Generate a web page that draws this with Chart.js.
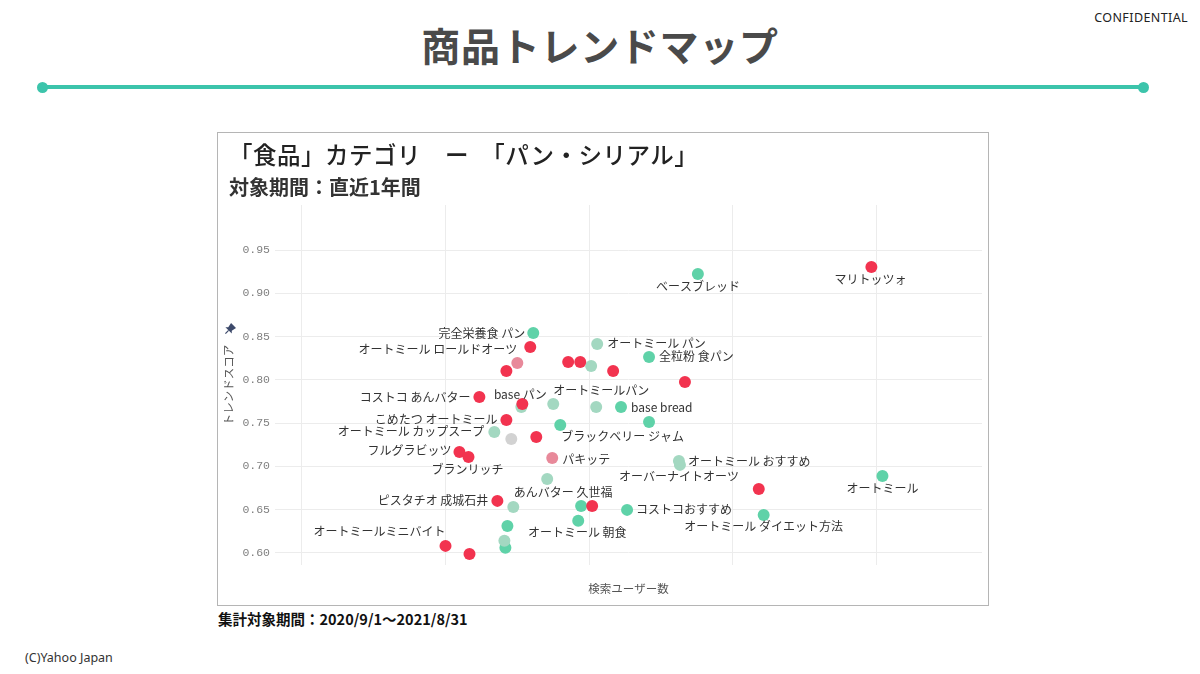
<!DOCTYPE html>
<html lang="ja">
<head>
<meta charset="utf-8">
<script src="https://cdn.jsdelivr.net/npm/chart.js@4.4.1/dist/chart.umd.min.js"></script>
<style>
  html, body { margin: 0; padding: 0; background: #fff; width: 1200px; height: 674px; overflow: hidden; font-family: "Noto Sans CJK JP", "Noto Sans", sans-serif; }
  .abs { position: absolute; white-space: nowrap; }
  #conf { right: 12px; top: 9px; font: 12.5px "Noto Sans", sans-serif; color: #222; letter-spacing: 0.4px; }
  #head { left: 0; width: 1200px; top: 18px; text-align: center; font: 700 39px "Noto Sans CJK JP"; color: #4a4a4a; letter-spacing: 0.7px; line-height: 52px; }
  #rule { left: 42px; top: 85px; width: 1101px; height: 4px; background: #3cc4ab; }
  .dot { position: absolute; width: 11px; height: 11px; border-radius: 50%; background: #3cc4ab; top: 82px; }
  #box { left: 217px; top: 132px; width: 770px; height: 472px; border: 1px solid #b5b5b5; }
  #t1 { left: 229px; top: 139px; font: 500 23.5px "Noto Sans CJK JP"; color: #222; line-height: 30px; letter-spacing: 0.5px; }
  #t2 { left: 229px; top: 173px; font: 700 20px "Noto Sans CJK JP"; color: #333; line-height: 28px; }
  #foot { left: 218px; top: 608px; font: 700 14.5px "Noto Sans CJK JP"; color: #111; line-height: 22px; }
  #copy { left: 25px; top: 649px; font: 12.5px "Noto Sans", sans-serif; color: #333; }
  #wrap { position: absolute; left: 218px; top: 133px; width: 770px; height: 472px; }
</style>
</head>
<body>
<div id="conf" class="abs">CONFIDENTIAL</div>
<div id="head" class="abs">商品トレンドマップ</div>
<div id="rule" class="abs"></div>
<div class="dot" style="left:37px"></div>
<div class="dot" style="left:1138px"></div>
<div id="box" class="abs"></div>
<div id="wrap"><canvas id="c" width="770" height="472"></canvas></div>
<div id="t1" class="abs">「食品」カテゴリ　ー　「パン・シリアル」</div>
<div id="t2" class="abs">対象期間：直近1年間</div>
<div id="foot" class="abs">集計対象期間：2020/9/1～2021/8/31</div>
<div id="copy" class="abs">(C)Yahoo Japan</div>
<script>
// ---- data ----
const names = [
  'マリトッツォ','ベースブレッド','完全栄養食 パン','オートミール ロールドオーツ','オートミール パン',
  '全粒粉 食パン','','','','',
  '','','','コストコ あんバター','base パン',
  '','オートミールパン','','base bread','こめたつ オートミール',
  'ブラックベリー ジャム','','オートミール カップスープ','','',
  'フルグラビッツ','ブランリッチ','パキッテ','オートミール おすすめ','オーバーナイトオーツ',
  '','オートミール','','ピスタチオ 成城石井','',
  'あんバター 久世福','','コストコおすすめ','オートミール ダイエット方法','',
  'オートミール 朝食','','','オートミールミニバイト','',
];
const searchUsers = [
  3.965, 2.757, 1.611, 1.590, 2.056,
  2.417, 1.500, 1.424, 1.854, 1.938,
  2.014, 2.167, 2.667, 1.236, 1.535,
  1.528, 1.750, 2.049, 2.222, 1.424,
  1.799, 2.417, 1.340, 1.458, 1.632,
  1.097, 1.160, 1.743, 2.625, 2.632,
  1.708, 4.042, 3.181, 1.361, 1.472,
  1.944, 2.021, 2.264, 3.215, 1.431,
  1.924, 1.410, 1.417, 1.000, 1.167,
];
const trendScore = [
  0.9304, 0.9223, 0.8541, 0.8380, 0.8414,
  0.8264, 0.8195, 0.8102, 0.8206, 0.8206,
  0.8160, 0.8102, 0.7975, 0.7802, 0.7721,
  0.7686, 0.7721, 0.7686, 0.7686, 0.7536,
  0.7479, 0.7513, 0.7398, 0.7317, 0.7340,
  0.7167, 0.7109, 0.7097, 0.7063, 0.7017,
  0.6855, 0.6889, 0.6739, 0.6601, 0.6531,
  0.6543, 0.6543, 0.6497, 0.6439, 0.6312,
  0.6370, 0.6139, 0.6058, 0.6081, 0.5988,
];
const groups = [
  'red','teal','teal','red','lteal',
  'teal','pink','red','red','red',
  'lteal','red','red','red','red',
  'lteal','lteal','lteal','teal','red',
  'teal','teal','lteal','gray','red',
  'red','red','pink','lteal','lteal',
  'lteal','teal','red','red','lteal',
  'teal','red','teal','teal','teal',
  'teal','lteal','teal','red','red',
];
const yTicks = [0.60, 0.65, 0.70, 0.75, 0.80, 0.85, 0.90, 0.95];
const xGrid = [0, 1, 2, 3, 4];

// ---- styling ----
const groupOrder = ['red','pink','gray','lteal','teal'];
const groupColors = { red: '#f2334f', pink: '#e8899a', gray: '#d2d2d2', lteal: '#a3d8c1', teal: '#5fd2a8' };
// label placement: [dx, dy, align] relative to the point
const labelPlacement = {
  0: [-1, 12, 'center'], 1: [0, 12, 'center'], 2: [-8, 0, 'right'], 3: [-13, 3, 'right'],
  4: [10, -1, 'left'], 5: [10, -1, 'left'], 13: [-9, 0, 'right'], 14: [-2, -10, 'center'],
  16: [0, -14, 'left'], 18: [10, 0, 'left'], 19: [-9, -1, 'right'], 20: [1, 12, 'left'],
  22: [-10, 0, 'right'], 25: [-8, -1, 'right'], 26: [-1, 13, 'center'], 27: [10, 1, 'left'],
  28: [9, 1, 'left'], 29: [-1, 12, 'center'], 31: [0, 12, 'center'], 33: [-9, 0, 'right'],
  35: [-18, -13, 'center'], 37: [9, 0, 'left'], 38: [0, 12, 'center'], 40: [-1, 12, 'center'],
  43: [0, -14, 'right'],
};

const datasets = groupOrder.map(g => {
  const data = [];
  names.forEach((n, i) => { if (groups[i] === g) data.push({ x: searchUsers[i], y: trendScore[i] }); });
  return { label: g, data, backgroundColor: groupColors[g], borderWidth: 0, pointRadius: 6, pointHoverRadius: 6 };
});

const labelPlugin = {
  id: 'pointLabels',
  afterDatasetsDraw(chart) {
    const { ctx, scales: { x, y } } = chart;
    ctx.save();
    ctx.font = '12px "Noto Sans CJK JP"';
    ctx.fillStyle = '#333';
    ctx.textBaseline = 'middle';
    names.forEach((n, i) => {
      if (!n) return;
      const p = labelPlacement[i] || [0, 12, 'center'];
      ctx.textAlign = p[2];
      ctx.fillText(n, x.getPixelForValue(searchUsers[i]) + p[0], y.getPixelForValue(trendScore[i]) + p[1]);
    });
    ctx.restore();
  }
};

// small pushpin glyph next to the y-axis title
const pinPlugin = {
  id: 'pin',
  afterDraw(chart) {
    const ctx = chart.ctx;
    ctx.save();
    ctx.translate(12, 196);
    ctx.rotate(Math.PI / 4);
    ctx.fillStyle = '#3d4a6b';
    ctx.beginPath();
    ctx.moveTo(-3.5, -5); ctx.lineTo(3.5, -5); ctx.lineTo(2.5, 0); ctx.lineTo(4.5, 2);
    ctx.lineTo(-4.5, 2); ctx.lineTo(-2.5, 0); ctx.closePath(); ctx.fill();
    ctx.fillRect(-0.6, 2, 1.2, 4.5);
    ctx.restore();
  }
};

new Chart(document.getElementById('c'), {
  type: 'scatter',
  data: { datasets },
  plugins: [labelPlugin, pinPlugin],
  options: {
    responsive: false,
    animation: false,
    events: [],
    layout: { padding: { top: 72, right: 0, left: 0, bottom: 0 } },
    plugins: { legend: { display: false }, tooltip: { enabled: false } },
    scales: {
      x: {
        type: 'linear', min: -0.187, max: 4.735,
        afterBuildTicks: a => { a.ticks = xGrid.map(v => ({ value: v })); },
        afterFit: a => { a.height = 40; },
        ticks: { display: false },
        grid: { color: '#ececec', drawTicks: false },
        border: { display: false },
        title: { display: true, text: '検索ユーザー数', color: '#555', font: { family: 'Noto Sans CJK JP', size: 11.5 }, padding: { top: 0, bottom: 9 } }
      },
      y: {
        type: 'linear', min: 0.586, max: 1.002,
        afterBuildTicks: a => { a.ticks = yTicks.map(v => ({ value: v })); },
        afterFit: a => { a.width = 57; },
        ticks: { color: '#808080', padding: 5, font: { family: 'Liberation Mono', size: 11.5 }, callback: v => Number(v).toFixed(2) },
        grid: { color: '#ececec', drawTicks: false },
        border: { display: false },
        title: { display: true, text: 'トレンドスコア', color: '#555', font: { family: 'Noto Sans CJK JP', size: 11.5 }, padding: { top: 4, bottom: 0 } }
      }
    }
  }
});
</script>
</body>
</html>
